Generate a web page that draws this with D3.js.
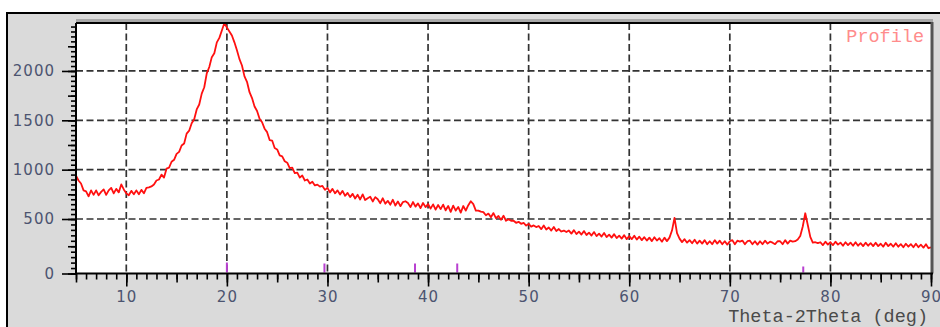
<!DOCTYPE html>
<html>
<head>
<meta charset="utf-8">
<script src="https://cdn.jsdelivr.net/npm/d3@7"></script>
<style>
  body { margin: 0; background: #fff; }
  svg { display: block; }
</style>
</head>
<body>
<div id="chart"></div>
<script>
// 2theta start / step of the scan
const twoThetaStart = 5;
const twoThetaStep = 0.25;

// intensity, one row per degree (x.00, x.25, x.50, x.75)
const intensity = [
  940, 890, 860, 790,      // 5
  780, 730, 790, 745,      // 6
  790, 740, 775, 800,      // 7
  745, 790, 815, 760,      // 8
  805, 770, 850, 800,      // 9
  760, 740, 785, 750,      // 10
  790, 750, 795, 760,      // 11
  815, 820, 830, 850,      // 12
  890, 900, 950, 920,      // 13
  1010, 1020, 1080, 1100,  // 14
  1160, 1180, 1245, 1265,  // 15
  1365, 1395, 1470, 1510,  // 16
  1610, 1660, 1770, 1835,  // 17
  1975, 2040, 2140, 2180,  // 18
  2290, 2335, 2410, 2486,  // 19
  2440, 2400, 2360, 2290,  // 20
  2210, 2120, 2055, 1945,  // 21
  1890, 1785, 1725, 1640,  // 22
  1595, 1515, 1480, 1415,  // 23
  1380, 1300, 1295, 1220,  // 24
  1205, 1145, 1135, 1085,  // 25
  1070, 1015, 1020, 965,   // 26
  970, 920, 940, 890,      // 27
  900, 860, 878, 840,      // 28
  848, 828, 835, 795,      // 29
  815, 770, 805, 760,      // 30
  790, 748, 785, 735,      // 31
  765, 722, 755, 708,      // 32
  745, 698, 750, 692,      // 33
  710, 725, 678, 722,      // 34
  700, 660, 710, 655,      // 35
  684, 645, 695, 636,      // 36
  678, 630, 672, 680,      // 37
  662, 620, 672, 625,      // 38
  658, 610, 662, 620,      // 39
  652, 605, 648, 595,      // 40
  642, 600, 646, 588,      // 41
  632, 572, 636, 585,      // 42
  622, 565, 632, 585,      // 43
  640, 680, 650, 585,      // 44
  585, 574, 570, 538,      // 45
  555, 518, 560, 508,      // 46
  530, 492, 533, 484,      // 47
  498, 484, 484, 465,      // 48
  474, 456, 464, 440,      // 49
  455, 430, 441, 426,      // 50
  436, 407, 441, 404,      // 51
  422, 394, 426, 390,      // 52
  408, 385, 394, 380,      // 53
  394, 366, 398, 362,      // 54
  384, 357, 389, 353,      // 55
  375, 348, 380, 343,      // 56
  366, 339, 371, 334,      // 57
  357, 329, 361, 325,      // 58
  347, 320, 352, 315,      // 59
  343, 315, 347, 311,      // 60
  338, 306, 333, 302,      // 61
  329, 297, 333, 302,      // 62
  324, 292, 329, 297,      // 63
  329, 394, 512, 370,      // 64
  320, 288, 315, 283,      // 65
  306, 278, 310, 274,      // 66
  301, 274, 306, 269,      // 67
  296, 269, 306, 274,      // 68
  301, 269, 296, 265,      // 69
  296, 306, 269, 301,      // 70
  292, 302, 269, 296,      // 71
  301, 269, 296, 265,      // 72
  296, 269, 301, 274,      // 73
  292, 283, 269, 296,      // 74
  296, 269, 306, 274,      // 75
  301, 292, 296, 311,      // 76
  345, 431, 558, 445,      // 77
  336, 283, 287, 278,      // 78
  287, 260, 292, 265,      // 79
  287, 260, 292, 265,      // 80
  283, 255, 287, 260,      // 81
  283, 255, 287, 255,      // 82
  278, 251, 283, 255,      // 83
  278, 251, 283, 251,      // 84
  273, 246, 283, 251,      // 85
  273, 246, 278, 246,      // 86
  269, 241, 273, 246,      // 87
  269, 241, 273, 241,      // 88
  264, 237, 269, 232,      // 89
  241                      // 90
];

// reference card lines (purple markers on the baseline)
const refPositions = [20.0, 29.7, 38.7, 42.9, 77.3];
const refIntensities = [100, 90, 90, 90, 60];

const xMajorTicks = [10, 20, 30, 40, 50, 60, 70, 80, 90];
const yMajorTicks = [0, 500, 1000, 1500, 2000];
const yMinorTicks = d3.range(0, 2451, 50);
const xMinorTicks = d3.range(5, 91, 1);

const width = 940, height = 327;
const plot = { left: 76, right: 931, top: 23, bottom: 273.5 };

const svg = d3.select('#chart').append('svg')
  .attr('width', width)
  .attr('height', height)
  .style('font-family', 'DejaVu Sans, sans-serif');

// gray panel with black frame on top/left
svg.append('rect').attr('x', 7).attr('y', 13).attr('width', width - 7).attr('height', height - 13)
  .attr('fill', '#dadada');
svg.append('line').attr('x1', 6).attr('x2', width).attr('y1', 13).attr('y2', 13)
  .attr('stroke', '#000').attr('stroke-width', 2);
svg.append('line').attr('x1', 7).attr('x2', 7).attr('y1', 12).attr('y2', height)
  .attr('stroke', '#000').attr('stroke-width', 2);

// plot background
svg.append('rect')
  .attr('x', plot.left).attr('y', plot.top)
  .attr('width', plot.right - plot.left).attr('height', plot.bottom - plot.top)
  .attr('fill', '#fff');

const x = d3.scaleLinear().domain([5, 90]).range([plot.left, plot.right]);
// the instrument software draws the zero slightly stretched, hence the polylinear scale
const y = d3.scaleLinear().domain([0, 500, 2486]).range([plot.bottom, 219, plot.top]);
const markH = d3.scaleLinear().domain([0, 100]).range([0, 10]);

// dashed grid
const grid = svg.append('g')
  .attr('stroke', '#333').attr('stroke-width', 1.7).attr('stroke-dasharray', '7,3.5');
grid.selectAll('.vg').data(xMajorTicks.filter(d => d < 90)).enter().append('line')
  .attr('x1', d => x(d)).attr('x2', d => x(d))
  .attr('y1', plot.top).attr('y2', plot.bottom);
grid.selectAll('.hg').data(yMajorTicks.filter(d => d > 0)).enter().append('line')
  .attr('x1', plot.left).attr('x2', plot.right)
  .attr('y1', d => y(d)).attr('y2', d => y(d));

// profile line
svg.append('clipPath').attr('id', 'clip').append('rect')
  .attr('x', plot.left).attr('y', plot.top - 1)
  .attr('width', plot.right - plot.left).attr('height', plot.bottom - plot.top + 1);

const line = d3.line()
  .x((d, i) => x(twoThetaStart + i * twoThetaStep))
  .y(d => y(d));

svg.append('path')
  .datum(intensity)
  .attr('clip-path', 'url(#clip)')
  .attr('fill', 'none')
  .attr('stroke', '#ff1010')
  .attr('stroke-width', 1.8)
  .attr('stroke-linejoin', 'round')
  .attr('d', line);

// reference markers
svg.selectAll('.ref').data(refPositions).enter().append('line')
  .attr('x1', d => x(d)).attr('x2', d => x(d))
  .attr('y1', plot.bottom - 1)
  .attr('y2', (d, i) => plot.bottom - 1 - markH(refIntensities[i]))
  .attr('stroke', '#b840d0').attr('stroke-width', 2);

// frame: top black with gray shadow, right dark gray
svg.append('line').attr('x1', plot.left).attr('x2', plot.right + 2)
  .attr('y1', plot.top - 2.5).attr('y2', plot.top - 2.5)
  .attr('stroke', '#a8a8a8').attr('stroke-width', 3);
svg.append('line').attr('x1', plot.left).attr('x2', plot.right + 2)
  .attr('y1', plot.top).attr('y2', plot.top)
  .attr('stroke', '#000').attr('stroke-width', 2.2);
svg.append('line').attr('x1', plot.right + 1).attr('x2', plot.right + 1)
  .attr('y1', plot.top - 1).attr('y2', plot.bottom)
  .attr('stroke', '#555').attr('stroke-width', 3);

// y axis
function styleAxis(g) {
  g.select('.domain').remove();
  g.selectAll('.tick line').attr('stroke', '#000').attr('stroke-width', 1.6);
}
svg.append('g').attr('transform', `translate(${plot.left},0)`)
  .call(d3.axisLeft(y).tickValues(yMinorTicks).tickSize(5).tickFormat(''))
  .call(styleAxis);
svg.append('g').attr('transform', `translate(${plot.left},0)`)
  .call(d3.axisLeft(y).tickValues(yMinorTicks.filter(d => d % 250 === 0)).tickSize(8).tickFormat(''))
  .call(styleAxis);
const yAxis = svg.append('g').attr('transform', `translate(${plot.left},0)`)
  .call(d3.axisLeft(y).tickValues(yMajorTicks).tickSize(14).tickPadding(7).tickFormat(d3.format('d')))
  .call(styleAxis);
yAxis.selectAll('text')
  .attr('fill', '#4c5470').style('font-size', '15px').style('letter-spacing', '1px')
  .style('font-family', 'DejaVu Sans, sans-serif');

// x axis
svg.append('g').attr('transform', `translate(0,${plot.bottom})`)
  .call(d3.axisBottom(x).tickValues(xMinorTicks).tickSize(6).tickFormat(''))
  .call(styleAxis);
svg.append('g').attr('transform', `translate(0,${plot.bottom})`)
  .call(d3.axisBottom(x).tickValues(xMinorTicks.filter(d => d % 5 === 0)).tickSize(9).tickFormat(''))
  .call(styleAxis);
const xAxis = svg.append('g').attr('transform', `translate(0,${plot.bottom})`)
  .call(d3.axisBottom(x).tickValues(xMajorTicks).tickSize(13).tickPadding(5))
  .call(styleAxis);
xAxis.selectAll('text')
  .attr('fill', '#4c5470').style('font-size', '15px').style('letter-spacing', '1px')
  .style('font-family', 'DejaVu Sans, sans-serif');

// axis lines
svg.append('line').attr('x1', plot.left).attr('x2', plot.left)
  .attr('y1', plot.top).attr('y2', plot.bottom + 1)
  .attr('stroke', '#000').attr('stroke-width', 2);
svg.append('line').attr('x1', plot.left - 1).attr('x2', plot.right + 2)
  .attr('y1', plot.bottom).attr('y2', plot.bottom)
  .attr('stroke', '#000').attr('stroke-width', 2);

// labels
svg.append('text')
  .attr('x', 924).attr('y', 41.5)
  .attr('text-anchor', 'end')
  .attr('fill', '#ff8c8c')
  .style('font-family', 'Liberation Mono, monospace').style('font-size', '18.5px')
  .text('Profile');

svg.append('text')
  .attr('x', 928).attr('y', 322)
  .attr('text-anchor', 'end')
  .attr('fill', '#4a4a4a')
  .style('font-family', 'Liberation Mono, monospace').style('font-size', '18.5px')
  .text('Theta-2Theta (deg)');
</script>
</body>
</html>
